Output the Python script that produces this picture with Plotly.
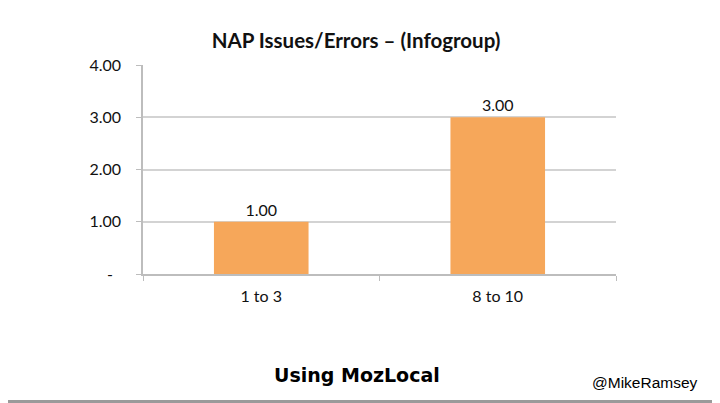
import plotly.graph_objects as go

# chart data
categories = ["1 to 3", "8 to 10"]
values = [1.00, 3.00]
y_tickvals = [0, 1, 2, 3, 4]
y_ticktext = ["-\u00a0\u00a0", "1.00", "2.00", "3.00", "4.00"]

W, H = 720, 403
OFF = 8  # page body margin, the figure lands 8px right/down
PLOT_W, PLOT_H = 473, 209
L, T = 143 - OFF, 65 - OFF
R, B = W - L - PLOT_W, H - T - PLOT_H

def px_x(px):
    return (px - OFF - L) / PLOT_W

def px_y(py):
    return (T + PLOT_H - (py - OFF)) / PLOT_H

fig = go.Figure()
fig.add_trace(go.Bar(
    x=categories, y=values,
    marker=dict(color="#F6A75A", line=dict(width=0)),
    width=0.4,
    text=[f"{v:.2f}" for v in values],
    textposition="outside",
    textfont=dict(family="Lato", size=16, color="#111111"),
    cliponaxis=False,
))

fig.update_layout(
    width=W, height=H,
    margin=dict(l=L, r=R, t=T, b=B),
    paper_bgcolor="white", plot_bgcolor="white",
    showlegend=False,
    title=dict(text="<b>NAP Issues/Errors – (Infogroup)</b>",
               font=dict(family="Lato", size=20.5, color="#111111"),
               x=(356 - OFF) / W, xanchor="center", xref="container",
               y=1 - (41 - OFF) / H, yanchor="middle", yref="container"),
    font=dict(family="Lato", size=16, color="#111111"),
)

fig.update_xaxes(
    showline=True, linecolor="#BDBDBD", linewidth=1.5,
    ticks="outside", tickson="boundaries", ticklen=5, tickcolor="#BDBDBD",
    showgrid=False, ticklabelstandoff=7,
    tickfont=dict(family="Lato", size=16, color="#111111"),
)
fig.update_yaxes(
    range=[0, 4], tickvals=y_tickvals, ticktext=y_ticktext,
    showline=True, linecolor="#BDBDBD", linewidth=1.5,
    ticks="outside", ticklen=5, tickcolor="#BDBDBD",
    showgrid=True, gridcolor="#D3D3D3", gridwidth=1.5,
    zeroline=False, ticklabelstandoff=12,
    tickfont=dict(family="Lato", size=16, color="#111111"),
)

fig.add_annotation(text="<b>Using MozLocal</b>", xref="paper", yref="paper",
                   x=px_x(357), y=px_y(375), xanchor="center", yanchor="middle",
                   showarrow=False,
                   font=dict(family="DejaVu Sans", size=19, color="#000000"))
fig.add_annotation(text="@MikeRamsey", xref="paper", yref="paper",
                   x=px_x(645), y=px_y(382), xanchor="center", yanchor="middle",
                   showarrow=False,
                   font=dict(family="Liberation Sans", size=15.5, color="#000000"))

# gray frame on right and bottom edges of the slide
fig.add_shape(type="line", xref="paper", yref="paper",
              x0=px_x(717), x1=px_x(717), y0=px_y(0), y1=px_y(403),
              line=dict(color="#9A9A9A", width=3))
fig.add_shape(type="line", xref="paper", yref="paper",
              x0=px_x(0), x1=px_x(720), y0=px_y(401.5), y1=px_y(401.5),
              line=dict(color="#9A9A9A", width=3))

fig.write_html("out.html")
